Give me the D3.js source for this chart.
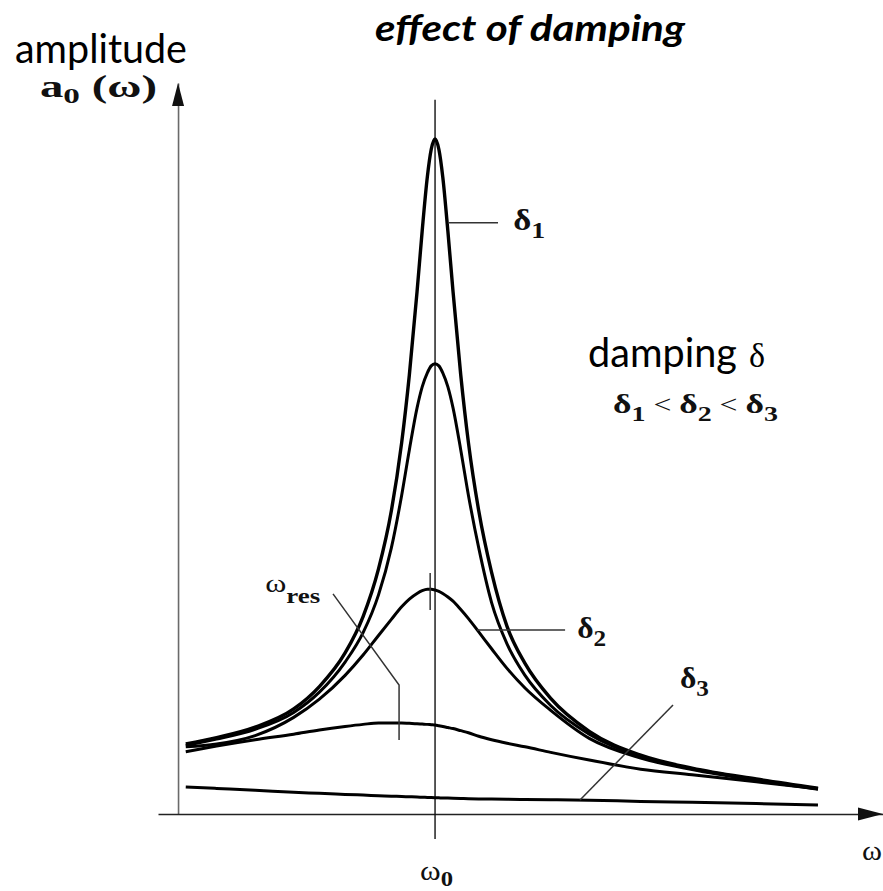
<!DOCTYPE html>
<html>
<head>
<meta charset="utf-8">
<script src="https://cdn.jsdelivr.net/npm/d3@7"></script>
<style>
  html, body { margin: 0; padding: 0; background: #fff; }
  svg { display: block; }
</style>
</head>
<body>
<svg id="chart" width="883" height="891"></svg>
<script>
// Frequency grid (ω / ω0) shared by every response curve
const omega = [0.03, 0.15, 0.3, 0.45, 0.55, 0.65, 0.72, 0.78, 0.83, 0.87,
               0.9, 0.93, 0.95, 0.97, 0.985, 1.0, 1.015, 1.03, 1.05, 1.07,
               1.1, 1.13, 1.17, 1.22, 1.28, 1.35, 1.45, 1.6, 1.8, 2.0,
               2.25, 2.49];

// Amplitude a0(ω) for increasing damping
const ampDelta1 = [1.00, 1.09, 1.24, 1.50, 1.82, 2.30, 2.82, 3.50, 4.33, 5.30,
                   6.27, 7.46, 8.33, 9.10, 9.49, 9.64, 9.49, 9.10, 8.32, 7.46,
                   6.27, 5.30, 4.33, 3.45, 2.68, 2.15, 1.65, 1.18, 0.84, 0.655,
                   0.50, 0.37];
const ampLight  = [0.98, 1.07, 1.21, 1.45, 1.74, 2.17, 2.59, 3.13, 3.80, 4.55,
                   5.20, 5.80, 6.10, 6.30, 6.40, 6.43, 6.40, 6.30, 6.10, 5.80,
                   5.20, 4.55, 3.80, 3.02, 2.43, 1.98, 1.55, 1.14, 0.82, 0.645,
                   0.49, 0.36];
const ampDelta2 = [0.96, 1.00, 1.12, 1.38, 1.64, 1.98, 2.27, 2.55, 2.78, 2.96,
                   3.07, 3.15, 3.19, 3.21, 3.21, 3.20, 3.18, 3.15, 3.10, 3.04,
                   2.92, 2.79, 2.60, 2.36, 2.08, 1.80, 1.48, 1.08, 0.80, 0.635,
                   0.48, 0.355];
const ampStrong = [0.89, 0.97, 1.06, 1.14, 1.20, 1.25, 1.28, 1.30, 1.30, 1.30,
                   1.295, 1.29, 1.285, 1.28, 1.275, 1.27, 1.26, 1.25, 1.235, 1.22,
                   1.19, 1.16, 1.11, 1.06, 1.01, 0.96, 0.88, 0.77, 0.64, 0.56,
                   0.46, 0.36];
const ampDelta3 = [0.385, 0.365, 0.340, 0.31, 0.295, 0.28, 0.27, 0.262, 0.255, 0.25,
                   0.246, 0.242, 0.24, 0.237, 0.235, 0.233, 0.231, 0.229, 0.227, 0.225,
                   0.222, 0.219, 0.216, 0.213, 0.210, 0.207, 0.203, 0.196, 0.180, 0.168,
                   0.150, 0.129];

const seriesList = [
  { name: "delta1", values: ampDelta1, width: 3.4 },
  { name: "light",  values: ampLight,  width: 3.0 },
  { name: "delta2", values: ampDelta2, width: 3.0 },
  { name: "strong", values: ampStrong, width: 3.0 },
  { name: "delta3", values: ampDelta3, width: 3.0 }
];

const svg = d3.select("#chart");

// Scales: ω0 = 1 sits on the centre line, amplitude 0 on the ω axis
const x = d3.scaleLinear().domain([-0.078, 2.743]).range([158, 883]);
const y = d3.scaleLinear().domain([0, 10.44]).range([814, 83]);

const SERIF = "'Liberation Serif', 'Times New Roman', serif";
const SANS = "Lato, 'Open Sans', sans-serif";

// ---- axes (plain lines with arrow heads) ----
const yAxis = svg.append("g")
  .attr("transform", `translate(${x(0)},0)`)
  .call(d3.axisLeft(y).tickValues([]).tickSizeOuter(0));
yAxis.select(".domain").attr("stroke", "#6a6a6a").attr("stroke-width", 1.6);

const xAxis = svg.append("g")
  .attr("transform", `translate(0,${y(0)})`)
  .call(d3.axisBottom(x).tickValues([]).tickSizeOuter(0));
xAxis.select(".domain").attr("stroke", "#222").attr("stroke-width", 1.6);

const yTip = [x(0), y(10.44)];
svg.append("path")
  .attr("d", `M${yTip[0]},${yTip[1]} L${yTip[0] - 6},${yTip[1] + 23} L${yTip[0] + 6},${yTip[1] + 23} Z`)
  .attr("fill", "#111");
const xTip = [x(2.743), y(0)];
svg.append("path")
  .attr("d", `M${xTip[0]},${xTip[1]} L${xTip[0] - 25},${xTip[1] - 6.5} L${xTip[0] - 25},${xTip[1] + 6.5} Z`)
  .attr("fill", "#111");

// ---- ω0 centre line ----
svg.append("line")
  .attr("x1", x(1)).attr("x2", x(1))
  .attr("y1", y(10.2)).attr("y2", y(-0.357))
  .attr("stroke", "#111").attr("stroke-width", 1.4);

// ---- response curves ----
const line = d3.line()
  .x((d, i) => x(omega[i]))
  .y(d => y(d))
  .curve(d3.curveMonotoneX);

svg.append("g").selectAll("path")
  .data(seriesList)
  .join("path")
  .attr("d", s => line(s.values))
  .attr("fill", "none")
  .attr("stroke", "#000")
  .attr("stroke-width", s => s.width)
  .attr("stroke-linejoin", "round")
  .attr("stroke-linecap", "butt");

// ---- leader lines and markers ----
const leaders = [
  [[1.051, 8.443], [1.245, 8.443]],                 // δ1
  [[1.163, 2.629], [1.506, 2.629]],                 // δ2
  [[1.564, 0.200], [1.926, 1.557]],                 // δ3
  [[0.603, 3.143], [0.860, 1.843], [0.860, 1.057]], // ω_res
  [[0.981, 2.914], [0.981, 3.443]]                  // resonance mark on δ2
];
const leaderLine = d3.line().x(d => x(d[0])).y(d => y(d[1]));
svg.append("g").selectAll("path")
  .data(leaders)
  .join("path")
  .attr("d", leaderLine)
  .attr("fill", "none")
  .attr("stroke", "#333")
  .attr("stroke-width", 1.5);

// ---- text helpers ----
// Formula-style label: parts drawn as tspans, then stretched to a given width
function mathLabel(px, py, parts, targetWidth) {
  const g = svg.append("g").attr("transform", `translate(${px},${py})`);
  const t = g.append("text").attr("font-family", SERIF).attr("fill", "#111");
  let shift = 0;
  parts.forEach(p => {
    const s = p.shift || 0;
    t.append("tspan")
      .text(p.t)
      .attr("font-size", p.size)
      .attr("font-weight", p.bold ? 700 : 400)
      .attr("dy", s - shift);
    shift = s;
  });
  if (targetWidth) {
    const w = t.node().getBBox().width;
    g.attr("transform", `translate(${px},${py}) scale(${targetWidth / w},1)`);
  }
  return g;
}

// Plain text at a given size, squeezed horizontally to span a given width
function fitText(px, py, str, opts, size, targetWidth) {
  const g = svg.append("g").attr("transform", `translate(${px},${py})`);
  const t = g.append("text")
    .attr("font-family", opts.family || SANS)
    .attr("font-weight", opts.weight || 400)
    .attr("font-style", opts.style || "normal")
    .attr("font-size", size)
    .attr("fill", "#000")
    .text(str);
  const w = t.node().getComputedTextLength();
  g.attr("transform", `translate(${px},${py}) scale(${targetWidth / w},1)`);
  return g;
}

// ---- titles ----
fitText(375, 41, "effect of damping", { weight: 700, style: "italic" }, 37, 310);
fitText(15, 63, "amplitude", {}, 41, 172);
fitText(588, 367, "damping", {}, 40, 149);
svg.append("text")
  .attr("x", 749).attr("y", 367)
  .attr("font-family", SERIF).attr("font-size", 34)
  .attr("fill", "#000")
  .text("δ");

// ---- formula labels ----
mathLabel(40, 97, [
  { t: "a", size: 31, bold: true },
  { t: "0", size: 22, bold: true, shift: 6 },
  { t: " (ω)", size: 31, bold: true, shift: 0 }
], 117);

mathLabel(x(1.304), y(8.343), [
  { t: "δ", size: 30, bold: true },
  { t: "1", size: 24, bold: true, shift: 8 }
], 32);

mathLabel(x(1.553), y(2.514), [
  { t: "δ", size: 30, bold: true },
  { t: "2", size: 24, bold: true, shift: 8 }
], 29);

mathLabel(x(1.953), y(1.8), [
  { t: "δ", size: 30, bold: true },
  { t: "3", size: 24, bold: true, shift: 8 }
], 29);

mathLabel(613, 413, [
  { t: "δ", size: 28, bold: true },
  { t: "1", size: 22, bold: true, shift: 8 },
  { t: " < ", size: 25, shift: 0 },
  { t: "δ", size: 28, bold: true },
  { t: "2", size: 22, bold: true, shift: 8 },
  { t: " < ", size: 25, shift: 0 },
  { t: "δ", size: 28, bold: true },
  { t: "3", size: 22, bold: true, shift: 8 }
], 165);

mathLabel(x(0.339), y(3.171), [
  { t: "ω", size: 25 },
  { t: "res", size: 21, bold: true, shift: 11 }
], 55);

mathLabel(420, 880, [
  { t: "ω", size: 28 },
  { t: "0", size: 22, bold: true, shift: 6 }
], 33);

mathLabel(862, 860, [
  { t: "ω", size: 27 }
], 20);
</script>
</body>
</html>
